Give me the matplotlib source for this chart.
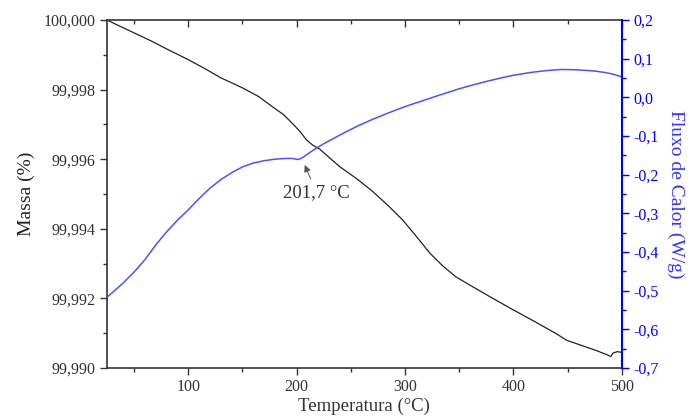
import matplotlib
matplotlib.use("Agg")
import matplotlib.pyplot as plt
from matplotlib.ticker import MultipleLocator, FuncFormatter

# Mass (%) vs temperature (black)
mass_t = [25, 35, 50, 65, 80, 100, 115, 130, 150, 165, 178, 188, 197, 203, 209,
          215, 221, 230, 240, 255, 270, 285, 298, 310, 323, 335, 347, 360, 380,
          400, 420, 440, 449, 460, 475, 485, 490, 492, 496, 500]
mass_v = [100.00000, 99.99985, 99.99963, 99.99941, 99.99917, 99.99886, 99.99861,
          99.99834, 99.99805, 99.99780, 99.99750, 99.99728, 99.99700, 99.99680,
          99.99656, 99.99640, 99.99630, 99.99605, 99.99578, 99.99545, 99.99508,
          99.99465, 99.99425, 99.99380, 99.99330, 99.99293, 99.99262, 99.99238,
          99.99202, 99.99167, 99.99133, 99.99098, 99.99080, 99.99068, 99.99052,
          99.99040, 99.99033, 99.99043, 99.99047, 99.99045]

# Heat flow (W/g) vs temperature (blue)
flux_t = [25, 30, 40, 50, 60, 70, 80, 90, 100, 110, 120, 130, 140, 150, 160, 170,
          180, 190, 196, 201.7, 206, 212, 218, 225, 235, 245, 258, 270, 285, 300,
          315, 330, 340, 350, 360, 375, 390, 400, 415, 430, 444, 455, 465, 475,
          485, 492, 500]
flux_v = [-0.517, -0.505, -0.480, -0.452, -0.420, -0.382, -0.348, -0.318, -0.291,
          -0.262, -0.235, -0.213, -0.195, -0.180, -0.170, -0.164, -0.160, -0.158,
          -0.158, -0.161, -0.155, -0.143, -0.132, -0.120, -0.105, -0.090, -0.072,
          -0.057, -0.040, -0.024, -0.010, 0.004, 0.013, 0.022, 0.030, 0.041, 0.051,
          0.057, 0.064, 0.069, 0.072, 0.0715, 0.070, 0.068, 0.064, 0.060, 0.053]

peak_label = "201,7 °C"
arrow_tip = (207.5, -0.175)
label_pos = (218.5, -0.247)

plt.rcParams['font.family'] = ['Liberation Serif', 'DejaVu Serif']

fig = plt.figure(figsize=(6.9, 4.19), dpi=100)
ax = fig.add_axes([0.155, 0.1217, 0.746, 0.8306])
ax2 = ax.twinx()

ax.plot(mass_t, mass_v, color='#222222', lw=0.9)
ax2.plot(flux_t, flux_v, color='#5050ff', lw=1.1)

ax.set_xlim(25, 500)
ax.set_ylim(99.990, 100.000)
ax2.set_ylim(-0.7, 0.2)

ax.xaxis.set_major_locator(MultipleLocator(100))
ax.xaxis.set_minor_locator(MultipleLocator(50))
ax.yaxis.set_major_locator(MultipleLocator(0.002))
ax.yaxis.set_minor_locator(MultipleLocator(0.001))
ax2.yaxis.set_major_locator(MultipleLocator(0.1))
ax2.yaxis.set_minor_locator(MultipleLocator(0.05))

ax.yaxis.set_major_formatter(FuncFormatter(lambda v, p: f"{v:.3f}".replace('.', ',')))
ax2.yaxis.set_major_formatter(FuncFormatter(lambda v, p: f"{v:.1f}".replace('.', ',').replace('-0,0', '0,0')))

ax.tick_params(axis='x', which='both', direction='out', top=False, labelsize=11.5, colors='#333333')
ax.tick_params(axis='x', which='major', length=5, width=1, pad=3)
ax.tick_params(axis='x', which='minor', length=3, width=1)
ax.tick_params(axis='y', which='major', length=5, width=1, labelsize=11.5, colors='#333333')
ax.tick_params(axis='y', which='minor', length=3, width=1, colors='#333333')
ax2.tick_params(axis='y', which='major', length=5, width=1, labelsize=11.5, colors='blue')
ax2.tick_params(axis='y', which='minor', length=3, width=1, colors='blue')

# top ticks inward
secx = ax.secondary_xaxis('top')
secx.xaxis.set_major_locator(MultipleLocator(100))
secx.xaxis.set_minor_locator(MultipleLocator(50))
secx.tick_params(which='major', direction='in', length=5, width=1, labeltop=False, colors='#333333')
secx.tick_params(which='minor', direction='in', length=3, width=1, colors='#333333')
secx.spines['top'].set_visible(False)

for s in ['left', 'bottom', 'top']:
    ax.spines[s].set_color('#333333')
    ax.spines[s].set_linewidth(1.2)
for s in ['left', 'bottom', 'top']:
    ax2.spines[s].set_visible(False)
ax2.spines['right'].set_color('blue')
ax2.spines['right'].set_linewidth(1.5)
ax.spines['right'].set_visible(False)

ax.set_xlabel("Temperatura (°C)", fontsize=13.5, color='#333333', labelpad=2)
ax.set_ylabel("Massa (%)", fontsize=14, color='#222222', labelpad=6)
ax2.set_ylabel("Fluxo de Calor (W/g)", fontsize=14, color='#3333ff', rotation=270, labelpad=18)

ax2.annotate(peak_label, xy=arrow_tip, xytext=label_pos,
             fontsize=13.5, color='#333333', ha='center', va='center',
             arrowprops=dict(arrowstyle='-|>', color='#555555', lw=0.7,
                             mutation_scale=10, shrinkA=2, shrinkB=0))

fig.savefig("out.png", dpi=100)
